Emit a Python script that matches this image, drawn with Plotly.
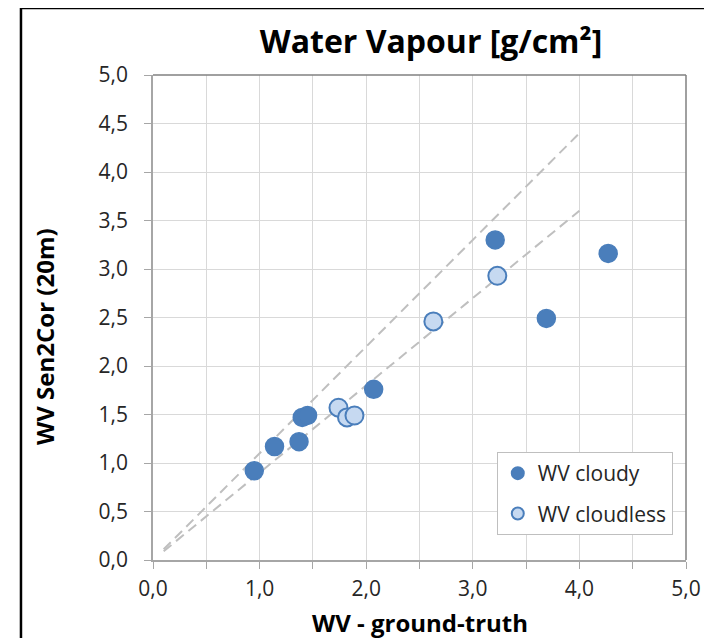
import plotly.graph_objects as go

# Data
cloudy_x = [0.95, 1.14, 1.37, 1.40, 1.45, 2.07, 3.21, 3.69, 4.27]
cloudy_y = [0.92, 1.17, 1.22, 1.47, 1.49, 1.76, 3.30, 2.49, 3.16]
cloudless_x = [1.74, 1.82, 1.89, 2.63, 3.23]
cloudless_y = [1.57, 1.47, 1.49, 2.46, 2.93]
upper_line_x = [0.1, 4.0]
upper_line_y = [0.11, 4.4]
lower_line_x = [0.1, 4.0]
lower_line_y = [0.09, 3.6]

FONT = "Open Sans"
BLUE = "#4a7ebb"
LIGHT = "#c6d9f1"

fig = go.Figure()
fig.add_trace(go.Scatter(x=upper_line_x, y=upper_line_y, mode="lines",
                         line=dict(color="#bfbfbf", width=2, dash="10px,6px"),
                         showlegend=False, hoverinfo="skip"))
fig.add_trace(go.Scatter(x=lower_line_x, y=lower_line_y, mode="lines",
                         line=dict(color="#bfbfbf", width=2, dash="10px,6px"),
                         showlegend=False, hoverinfo="skip"))
fig.add_trace(go.Scatter(x=cloudy_x, y=cloudy_y, mode="markers", name="WV cloudy",
                         legendgroup="a",
                         marker=dict(size=18, color=BLUE, line=dict(color=BLUE, width=1.5))))
fig.add_trace(go.Scatter(x=cloudless_x, y=cloudless_y, mode="markers", name="WV cloudless",
                         legendgroup="b",
                         marker=dict(size=18, color=LIGHT, line=dict(color=BLUE, width=2))))

axis_common = dict(
    range=[0, 5], tickformat=".1f", showgrid=True, gridcolor="#d9d9d9", gridwidth=1,
    zeroline=False, showline=True, linecolor="#a6a6a6", linewidth=1.5,
    ticks="outside", tickcolor="#a6a6a6", ticklen=7,
    tickfont=dict(family=FONT, size=21, color="#262626"),
)

fig.update_xaxes(**axis_common, dtick=1, tick0=0, ticklabelstandoff=2,
                 minor=dict(dtick=0.5, showgrid=True, gridcolor="#d9d9d9",
                            ticks="outside", ticklen=7, tickcolor="#a6a6a6"))
fig.update_yaxes(**axis_common, dtick=0.5, tick0=0, ticklabelstandoff=12)

# plot area border (top/right) and outer black frame
fig.add_shape(type="line", xref="paper", yref="paper", x0=0, x1=1, y0=1, y1=1,
              line=dict(color="#808080", width=1.5))
fig.add_shape(type="line", xref="paper", yref="paper", x0=1, x1=1, y0=0, y1=1,
              line=dict(color="#808080", width=1.5))
fig.add_shape(type="rect", xref="paper", yref="paper", x0=-0.2477, x1=1.2, y0=-0.3, y1=1.138,
              line=dict(color="black", width=2.5), layer="below")

fig.add_annotation(text="<b>WV - ground-truth</b>", xref="paper", yref="paper",
                   x=0.5, y=-0.128, showarrow=False, yanchor="middle",
                   font=dict(family=FONT, size=24, color="black"))
fig.add_annotation(text="<b>WV Sen2Cor (20m)</b>", xref="paper", yref="paper",
                   x=-0.2026, y=0.46, showarrow=False, textangle=-90,
                   xanchor="center", yanchor="middle",
                   font=dict(family=FONT, size=24, color="black"))

fig.update_layout(
    width=704, height=630,
    margin=dict(l=145, r=26, t=67, b=78),
    paper_bgcolor="white", plot_bgcolor="white",
    separators=",.",
    title=dict(text="<b>Water Vapour [g/cm²]</b>", x=423/704, xanchor="center",
               y=1 - 34/630, yanchor="middle", yref="container",
               font=dict(family=FONT, size=32, color="black")),
    legend=dict(x=0.645, y=0.2227, xanchor="left", yanchor="top",
                bgcolor="white", bordercolor="#bfbfbf", borderwidth=1,
                font=dict(family=FONT, size=21, color="#262626"),
                itemsizing="constant", tracegroupgap=10),
    showlegend=True,
)

fig.write_html("out.html")
